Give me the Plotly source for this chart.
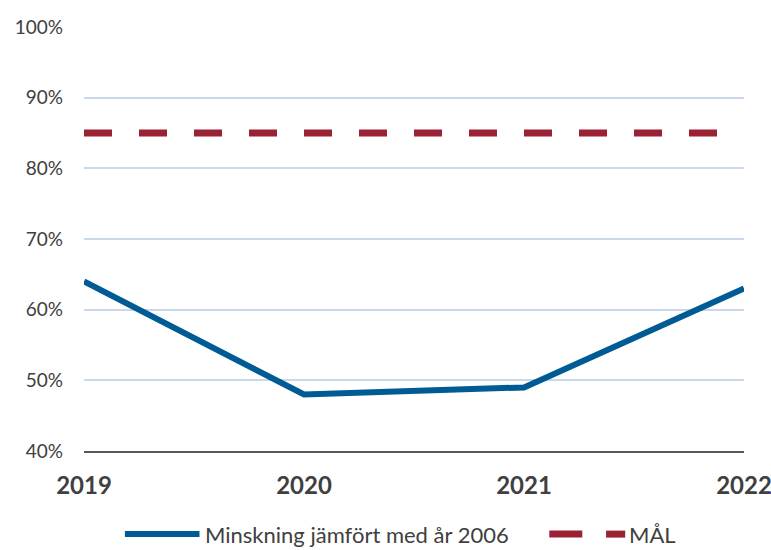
import plotly.graph_objects as go

years = [2019, 2020, 2021, 2022]
minskning = [64, 48, 49, 63]
mal = [85, 85, 85, 85]
y_ticks = [40, 50, 60, 70, 80, 90, 100]
y_labels = [f"{v}%" for v in y_ticks]

BLUE = "#005b94"
RED = "#9b2235"
FONT = "Lato"
LEG_Y = -0.196

fig = go.Figure()
fig.add_trace(go.Scatter(x=years, y=mal, mode="lines", name="MÅL",
                         line=dict(color=RED, width=7, dash="28px,27px"),
                         showlegend=False))
fig.add_trace(go.Scatter(x=years, y=minskning, mode="lines",
                         name="Minskning jämfört med år 2006",
                         line=dict(color=BLUE, width=6), showlegend=False))

# custom legend
fig.add_shape(type="line", xref="paper", yref="paper", x0=0.062, x1=0.175,
              y0=LEG_Y, y1=LEG_Y, line=dict(color=BLUE, width=6))
fig.add_annotation(xref="paper", yref="paper", x=0.180, y=LEG_Y,
                   text="Minskning jämfört med år 2006", showarrow=False,
                   xanchor="left", yanchor="middle",
                   font=dict(family=FONT, size=22, color="#404040"))
fig.add_shape(type="line", xref="paper", yref="paper", x0=0.705, x1=0.755,
              y0=LEG_Y, y1=LEG_Y, line=dict(color=RED, width=7))
fig.add_shape(type="line", xref="paper", yref="paper", x0=0.791, x1=0.820,
              y0=LEG_Y, y1=LEG_Y, line=dict(color=RED, width=7))
fig.add_annotation(xref="paper", yref="paper", x=0.822, y=LEG_Y,
                   text="MÅL", showarrow=False,
                   xanchor="left", yanchor="middle",
                   font=dict(family=FONT, size=22, color="#404040"))

fig.update_layout(
    width=771, height=550,
    margin=dict(l=84, r=27, t=27, b=99, autoexpand=False),
    plot_bgcolor="white", paper_bgcolor="white",
    font=dict(family=FONT, color="#404040"),
    showlegend=False,
)
fig.update_xaxes(range=[2019, 2022], tickvals=years, ticktext=[str(y) for y in years],
                 showgrid=False, zeroline=False, showline=True,
                 linecolor="#595959", linewidth=2, automargin=False,
                 tickfont=dict(family=FONT, size=24, color="#404040", weight="bold"),
                 ticks="", ticklabelstandoff=12, ticklabeloverflow="allow")
fig.update_yaxes(range=[40, 100], tickvals=y_ticks, ticktext=y_labels,
                 showgrid=True, gridcolor="#c9d8ea", gridwidth=1.5,
                 zeroline=False, showline=False, ticks="", automargin=False,
                 tickfont=dict(family=FONT, size=19, color="#404040"),
                 ticklabelstandoff=20)

fig.write_html("out.html", config={"displayModeBar": False},
               post_script="document.body.style.margin='0';")
